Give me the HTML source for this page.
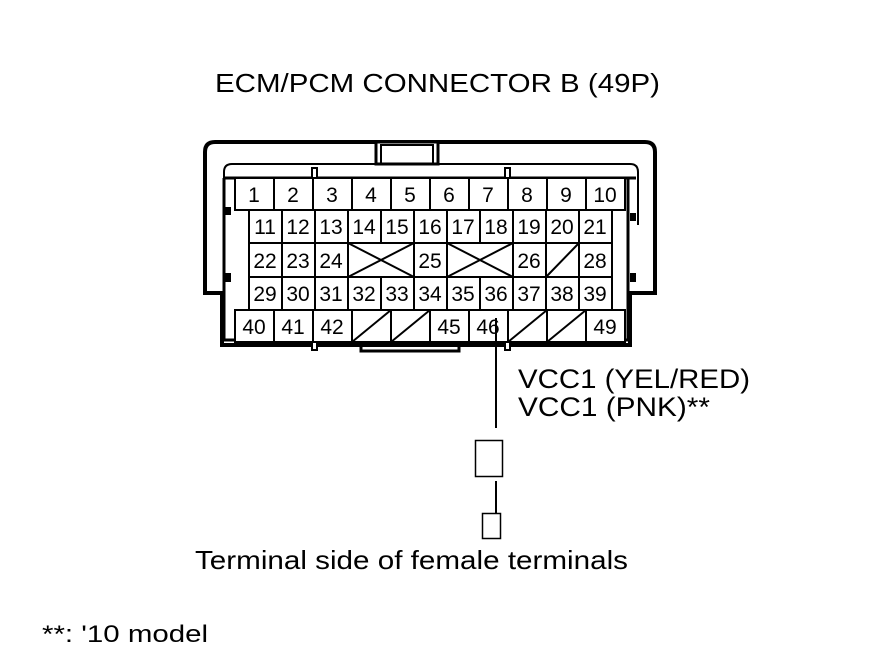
<!DOCTYPE html>
<html><head><style>body{margin:0;background:#fff}svg{display:block}</style></head><body>
<svg width="880" height="660" viewBox="0 0 880 660" xmlns="http://www.w3.org/2000/svg" font-family="Liberation Sans, sans-serif">
<rect width="880" height="660" fill="#fff"/>
<text x="215" y="92" font-size="26" textLength="445" lengthAdjust="spacingAndGlyphs">ECM/PCM CONNECTOR B (49P)</text>
<g fill="none" stroke="#000">
<path d="M222,345 V293 H205 V152 Q205,142 215,142 H645 Q655,142 655,152 V293 H630 V345 Z" stroke-width="4"/>
<rect x="376" y="142" width="62" height="22" fill="#fff" stroke-width="3"/>
<rect x="381" y="145" width="52" height="19" stroke-width="2"/>
<path d="M224,225 V172 Q224,164 232,164 H630 Q638,164 638,172 V225" stroke-width="2"/>
<path d="M224,178 H636 M224,178 V340 H628 V178" stroke-width="3"/>
<path d="M361,342 V351 H459 V342" stroke-width="3"/>
<rect x="312" y="168" width="5" height="10" fill="#fff" stroke-width="2"/>
<rect x="505" y="168" width="5" height="10" fill="#fff" stroke-width="2"/>
<rect x="312" y="342" width="5" height="8" fill="#fff" stroke-width="2"/>
<rect x="505" y="342" width="5" height="8" fill="#fff" stroke-width="2"/>
</g>
<g fill="#000">
<rect x="225" y="207" width="6" height="8"/><rect x="225" y="273" width="6" height="9"/>
<rect x="630" y="213" width="6" height="8"/><rect x="630" y="273" width="6" height="9"/>
</g>
<g fill="#fff" stroke="#000" stroke-width="2">
<rect x="235" y="178" width="390" height="32"/>
<rect x="235" y="310" width="390" height="32"/>
<rect x="249" y="210" width="363" height="100"/>
<path d="M274,178V210M313,178V210M352,178V210M391,178V210M430,178V210M469,178V210M508,178V210M547,178V210M586,178V210"/>
<path d="M274,310V342M313,310V342M352,310V342M391,310V342M430,310V342M469,310V342M508,310V342M547,310V342M586,310V342"/>
<path d="M249,243H612M249,277H612"/>
<path d="M282,210V310M315,210V310M348,210V310M381,210V243M381,277V310M414,210V310M447,210V310M480,210V243M480,277V310M513,210V310M546,210V310M579,210V310"/>
<path d="M348,243L414,277M348,277L414,243M447,243L513,277M447,277L513,243M546,277L579,243"/>
<path d="M352,342L391,310M391,342L430,310M508,342L547,310M547,342L586,310"/>
</g>
<g font-size="21" text-anchor="middle">
<text x="254" y="202">1</text><text x="293" y="202">2</text><text x="332" y="202">3</text><text x="371" y="202">4</text><text x="410" y="202">5</text><text x="449" y="202">6</text><text x="488" y="202">7</text><text x="527" y="202">8</text><text x="566" y="202">9</text><text x="605" y="202">10</text>
<text x="265" y="234">11</text><text x="298" y="234">12</text><text x="331" y="234">13</text><text x="364" y="234">14</text><text x="397" y="234">15</text><text x="430" y="234">16</text><text x="463" y="234">17</text><text x="496" y="234">18</text><text x="529" y="234">19</text><text x="562" y="234">20</text><text x="595" y="234">21</text>
<text x="265" y="268">22</text><text x="298" y="268">23</text><text x="331" y="268">24</text><text x="430" y="268">25</text><text x="529" y="268">26</text><text x="595" y="268">28</text>
<text x="265" y="301">29</text><text x="298" y="301">30</text><text x="331" y="301">31</text><text x="364" y="301">32</text><text x="397" y="301">33</text><text x="430" y="301">34</text><text x="463" y="301">35</text><text x="496" y="301">36</text><text x="529" y="301">37</text><text x="562" y="301">38</text><text x="595" y="301">39</text>
<text x="254" y="334">40</text><text x="293" y="334">41</text><text x="332" y="334">42</text><text x="449" y="334">45</text><text x="488" y="334">46</text><text x="605" y="334">49</text>
</g>
<g stroke="#000" fill="#fff">
<path d="M496,318V428M496,481V513" stroke-width="2"/>
<rect x="475.5" y="440.5" width="27" height="36" stroke-width="1.5"/>
<rect x="482.5" y="513.5" width="18" height="25" stroke-width="1.5"/>
</g>
<text x="518" y="388" font-size="27" textLength="232" lengthAdjust="spacingAndGlyphs">VCC1 (YEL/RED)</text>
<text x="518" y="416" font-size="27" textLength="192" lengthAdjust="spacingAndGlyphs">VCC1 (PNK)**</text>
<text x="195" y="569" font-size="26" textLength="433" lengthAdjust="spacingAndGlyphs">Terminal side of female terminals</text>
<text x="42" y="642" font-size="24" textLength="166" lengthAdjust="spacingAndGlyphs">**: '10 model</text>
</svg>
</body></html>
